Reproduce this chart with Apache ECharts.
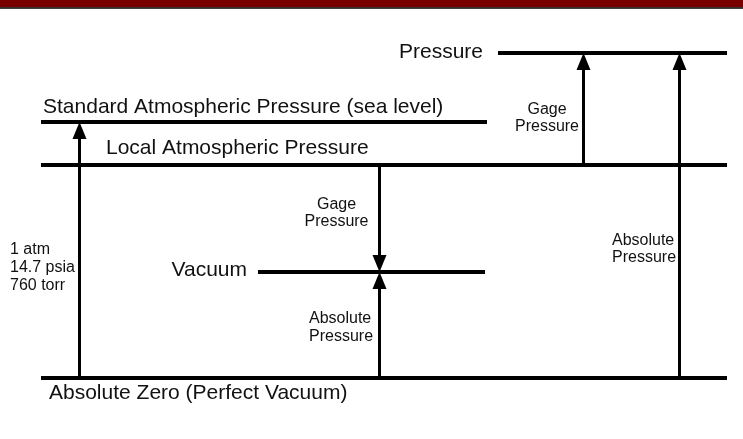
<!DOCTYPE html>
<html><head><meta charset="utf-8">
<script src="https://cdn.jsdelivr.net/npm/echarts@6/dist/echarts.min.js"></script>
<style>html,body{margin:0;padding:0;background:#fff}#c{width:743px;height:439px}</style>
</head><body><div id="c"></div>
<script>
// Pressure levels, as height above absolute zero (diagram units)
const levelNames = ['Pressure', 'Standard Atmospheric Pressure (sea level)', 'Local Atmospheric Pressure', 'Vacuum', 'Absolute Zero (Perfect Vacuum)'];
const levelValues = [325, 256, 213, 106, 0];
const levelStart = [498, 41, 41, 258, 41];
const levelEnd = [727, 487, 727, 485, 727];

// Arrows: column, from level, to level, annotation
const arrowX = [79.5, 379.5, 379.5, 583.5, 679.5];
const arrowFrom = [0, 213, 0, 213, 0];
const arrowTo = [256, 106, 106, 325, 325];

const noteTexts = ['Gage\nPressure', 'Gage\nPressure', 'Absolute\nPressure', 'Absolute\nPressure', '1 atm\n14.7 psia\n760 torr'];

const chart = echarts.init(document.getElementById('c'), null, {renderer: 'canvas'});
const big = '21px "Liberation Sans", Arial, sans-serif';
const small = '16px "Liberation Sans", Arial, sans-serif';
const ink = '#111';

const levelData = levelValues.map((v, i) => [levelStart[i], levelEnd[i], v]);
const arrowData = arrowX.map((x, i) => [x, arrowFrom[i], arrowTo[i]]);

function T(text, x, y, font, align, lh) {
  return {type: 'text', x: x, y: y, z: 10,
    style: {text: text, font: font, fill: ink, align: align, verticalAlign: 'middle', lineHeight: lh || 24}};
}

chart.setOption({
  animation: false,
  grid: {left: 0, right: 0, top: 0, bottom: 0},
  xAxis: {type: 'value', min: 0, max: 743, show: false},
  yAxis: {type: 'value', min: -61, max: 378, show: false},
  series: [
    {
      type: 'custom', clip: false, data: levelData,
      encode: {x: [0, 1], y: 2},
      renderItem: function (params, api) {
        const p1 = api.coord([api.value(0), api.value(2)]);
        const p2 = api.coord([api.value(1), api.value(2)]);
        return {type: 'line', shape: {x1: p1[0], y1: p1[1], x2: p2[0], y2: p2[1]},
          style: {stroke: '#000', lineWidth: 4}};
      }
    },
    {
      type: 'custom', clip: false, data: arrowData,
      encode: {x: 0, y: [1, 2]},
      renderItem: function (params, api) {
        const a = api.coord([api.value(0), api.value(1)]);
        const b = api.coord([api.value(0), api.value(2)]);
        const dir = b[1] > a[1] ? 1 : -1;
        const hh = 17, hw = 7;
        const base = b[1] - dir * hh;
        return {type: 'group', children: [
          {type: 'line', shape: {x1: a[0], y1: a[1], x2: b[0], y2: base}, style: {stroke: '#000', lineWidth: 3}},
          {type: 'polygon', shape: {points: [[b[0], b[1]], [b[0] - hw, base], [b[0] + hw, base]]}, style: {fill: '#000'}}
        ]};
      }
    }
  ],
  graphic: [
    {type: 'rect', shape: {x: 0, y: 0, width: 743, height: 7.3}, style: {fill: '#7a0000'}},
    {type: 'rect', shape: {x: 0, y: 7.3, width: 743, height: 1.4}, style: {fill: '#000'}},
    T(levelNames[0], 483, 52, big, 'right'),
    T(levelNames[1], 43, 107.5, big, 'left'),
    T(levelNames[2], 106, 148.5, big, 'left'),
    T(levelNames[3], 247, 270.5, big, 'right'),
    T(levelNames[4], 49, 393.5, big, 'left'),
    T(noteTexts[0], 547, 118.5, small, 'center', 17),
    T(noteTexts[1], 336.5, 213, small, 'center', 17),
    T(noteTexts[2], 309, 328, small, 'left', 18),
    T(noteTexts[3], 612, 249.5, small, 'left', 17),
    T(noteTexts[4], 10, 268, small, 'left', 18)
  ]
});
</script>
</body></html>
